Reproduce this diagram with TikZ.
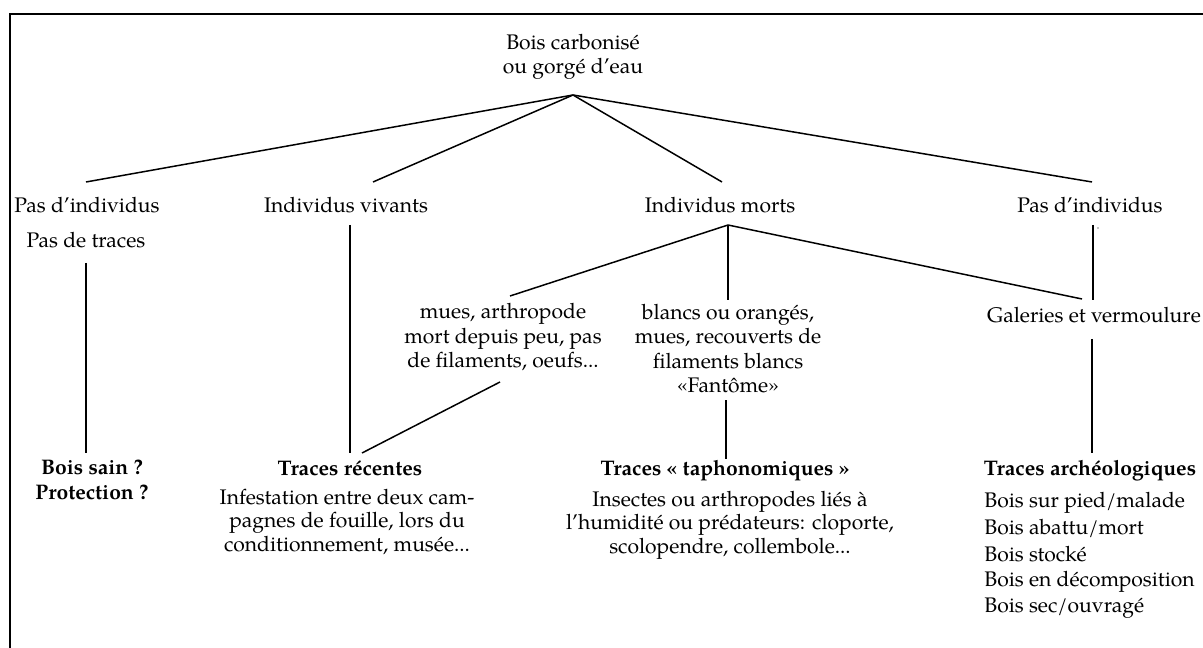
\documentclass[tikz,border=0pt]{standalone}
\usepackage{fontspec}
\setmainfont{TeX Gyre Pagella}
\usetikzlibrary{calc,positioning}

\tikzset{
  txt/.style={inner sep=0pt, align=center, anchor=base, font=\fontsize{12}{14}\selectfont},
  head/.style={txt, font=\fontsize{12}{14}\selectfont\bfseries},
  note/.style={txt, font=\fontsize{12}{13.3}\selectfont},
  item/.style={inner sep=0pt, anchor=base west, font=\fontsize{12}{14}\selectfont},
  link/.style={line width=0.85pt},
}

\begin{document}
\begin{tikzpicture}[x=0.2mm, y=-0.2mm]
  \useasboundingbox (0,0) rectangle (1203,648);
  % frame, cut off on the right and at the bottom
  \draw[line width=1.4pt] (10,648) -- (10,14) -- (1203,14);

  % top (multi-line nodes sit on the baseline of their last line)
  \node[txt] (root) at (573,74) {Bois carbonisé\\ou gorgé d’eau};

  % second row
  \node[txt] (none1) at (87,213) {Pas d’individus};
  \node[txt] (living) at (346,213) {Individus vivants};
  \node[txt] (dead) at (720,213) {Individus morts};
  \node[txt] (none2) at (1090,213) {Pas d’individus};
  \node[txt] (notrace) at (86,248) {Pas de traces};
  \fill (1098,228) circle (0.7);

  % third row
  \node[txt] (moults) at (503,368) {mues, arthropode\\mort depuis peu, pas\\de filaments, oeufs...};
  \node[txt] (ghost) at (728,393) {blancs ou orangés,\\mues, recouverts de\\filaments blancs\\«Fantôme»};
  \node[txt] (galleries) at (1094,322) {Galeries et vermoulure};

  % bottom row
  \node[head] (sound) at (92,499) {Bois sain ?\\Protection ?};
  \node[head] (recent) at (350,475) {Traces récentes};
  \node[note] (recentx) at (347,551) {Infestation entre deux cam-\\pagnes de fouille, lors du\\conditionnement, musée...};
  \node[head] (tapho) at (725,475) {Traces « taphonomiques »};
  \node[note] (taphox) at (730,553) {Insectes ou arthropodes liés à\\l’humidité ou prédateurs: cloporte,\\scolopendre, collembole...};
  \node[head] (arch) at (1090,475) {Traces archéologiques};
  \node[item] (wood1) at (984,507) {Bois sur pied/malade};
  \node[item] (wood2) at (984,534) {Bois abattu/mort};
  \node[item] (wood3) at (984,561) {Bois stocké};
  \node[item] (wood4) at (984,586) {Bois en décomposition};
  \node[item] (wood5) at (984,612) {Bois sec/ouvragé};

  % connectors
  \coordinate (apex) at ($(root.base)+(0,21)$);
  \foreach \t/\dx in {none1/-1, living/27, dead/2, none2/2}
    \draw[link] (apex) -- ($(\t.base)+(\dx,-31)$);
  \draw[link] ($(notrace.base)+(0,15)$) -- ($(sound.base)+(-6,-46)$);
  \draw[link] ($(living.base)+(4,12)$) -- ($(recent.base)+(0,-22)$);
  \draw[link] ($(dead.base)+(8,12)$) -- ($(moults.base)+(7,-72)$);
  \draw[link] ($(dead.base)+(8,12)$) -- ($(ghost.base)+(0,-93)$);
  \draw[link] ($(dead.base)+(8,12)$) -- ($(galleries.base)+(-12,-23)$);
  \draw[link] ($(none2.base)+(3,12)$) -- ($(galleries.base)+(-1,-22)$);
  \draw[link] ($(moults.base)+(-3,14)$) -- ($(recent.base)+(12,-22)$);
  \draw[link] ($(ghost.base)+(-2,7)$) -- ($(tapho.base)+(1,-16)$);
  \draw[link] ($(galleries.base)+(-2,17)$) -- ($(arch.base)+(2,-22)$);
\end{tikzpicture}
\end{document}
